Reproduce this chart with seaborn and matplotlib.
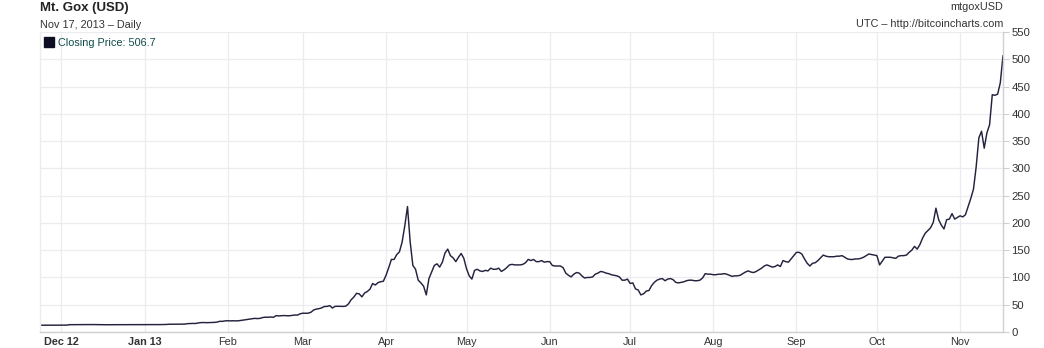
import matplotlib
matplotlib.use("Agg")
import matplotlib.pyplot as plt
import pandas as pd
import seaborn as sns
from matplotlib.lines import Line2D

# ---------------- data (Mt. Gox daily close, USD) ----------------
start_date = "2012-11-23"
nov_2012 = [12.4, 12.4, 12.5, 12.3, 12.2, 12.4, 12.6, 12.6]
dec_2012 = [12.6, 12.6, 12.6, 13.4, 13.4, 13.3, 13.5, 13.4, 13.4, 13.5, 13.6,
            13.7, 13.6, 13.5, 13.5, 13.2, 13.3, 13.3, 13.4, 13.5, 13.4, 13.4,
            13.4, 13.3, 13.3, 13.4, 13.4, 13.5, 13.4, 13.4, 13.5]
jan_2013 = [13.3, 13.3, 13.4, 13.4, 13.5, 13.4, 13.6, 13.7, 13.8, 14.2, 14.3,
            14.2, 14.3, 14.3, 14.1, 14.5, 15.3, 15.5, 15.7, 15.6, 16.6, 17.2,
            17.4, 17.1, 17.2, 17.5, 17.6, 18.2, 19.6, 19.5, 20.4]
feb_2013 = [20.6, 20.4, 20.6, 20.4, 20.6, 21.2, 22.0, 22.7, 23.6, 24.0, 25.0,
            24.6, 25.0, 26.5, 27.2, 27.0, 27.5, 26.9, 29.9, 29.5, 29.8, 30.2,
            29.8, 29.8, 30.4, 31.1, 31.0, 33.4]
mar_2013 = [34.5, 34.3, 34.5, 36.2, 40.3, 42.0, 42.8, 44.2, 46.8, 46.9, 48.4,
            44.0, 47.0, 47.2, 47.0, 46.9, 47.4, 51.6, 59.2, 64.0, 70.9, 69.9,
            64.4, 71.5, 74.2, 78.5, 88.9, 86.2, 90.5, 92.2, 93.0]
apr_2013 = [104, 118, 133, 133, 142, 147, 165, 195, 230, 165, 122, 115, 95, 90,
            84, 68, 98, 110, 122, 125, 119, 128, 145, 152, 140, 136, 129, 137,
            144, 135]
may_2013 = [116, 103, 97, 113, 115, 112, 111, 113, 112, 117, 115, 115, 117, 111,
            114, 118, 123, 124, 123, 123, 123, 124, 127, 133, 131, 133, 129, 129,
            131, 128, 129]
jun_2013 = [129, 122, 121, 121, 121, 118, 108, 104, 101, 106, 109, 108, 103, 99,
            100, 100, 101, 106, 108, 111, 110, 108, 107, 105, 104, 103, 101, 95,
            95, 97]
jul_2013 = [89, 90, 79, 77, 68, 70, 75, 76, 85, 91, 95, 97, 98, 94, 97, 98, 96,
            91, 90, 91, 92, 94, 95, 95, 94, 94, 95, 99, 107, 106, 106]
aug_2013 = [105, 105, 106, 106, 107, 106, 104, 102, 103, 103, 104, 107, 110,
            112, 110, 109, 111, 114, 117, 121, 123, 121, 119, 120, 123, 120, 131,
            129, 128, 134, 140]
sep_2013 = [146, 146, 143, 134, 126, 121, 126, 127, 131, 136, 141, 139, 138,
            138, 138, 139, 139, 140, 137, 134, 133, 133, 134, 134, 135, 137, 140,
            143, 142, 141]
oct_2013 = [140, 123, 130, 137, 137, 137, 136, 135, 139, 140, 140, 141, 146,
            150, 157, 152, 160, 172, 181, 186, 191, 201, 227, 206, 196, 189, 206,
            207, 217, 207, 210]
nov_2013 = [213, 211, 215, 230, 245, 262, 303, 356, 368, 337, 365, 380, 435,
            434, 436, 457, 506.7]

month_ticks = ["2012-12-01", "2013-01-01", "2013-02-01", "2013-03-01",
               "2013-04-01", "2013-05-01", "2013-06-01", "2013-07-01",
               "2013-08-01", "2013-09-01", "2013-10-01", "2013-11-01"]
month_labels = ["Dec 12", "Jan 13", "Feb", "Mar", "Apr", "May", "Jun", "Jul",
                "Aug", "Sep", "Oct", "Nov"]
bold_labels = ["Dec 12", "Jan 13"]
y_ticks = [0, 50, 100, 150, 200, 250, 300, 350, 400, 450, 500, 550]

prices = (nov_2012 + dec_2012 + jan_2013 + feb_2013 + mar_2013 + apr_2013 +
          may_2013 + jun_2013 + jul_2013 + aug_2013 + sep_2013 + oct_2013 +
          nov_2013)
dates = pd.date_range(start_date, periods=len(prices), freq="D")
df = pd.DataFrame({"date": dates, "price": prices})

# ---------------- style ----------------
sns.set_theme(style="white")
plt.rcParams["font.family"] = ["Liberation Sans", "DejaVu Sans"]

W, H = 1044, 348
fig = plt.figure(figsize=(W / 100, H / 100), dpi=100)
ax = fig.add_axes([40 / W, (H - 332) / H, 963 / W, 300 / H])

line_color = "#23233f"
grid_color = "#ececf0"
axis_color = "#cfcfd4"
text_color = "#333333"

sns.lineplot(data=df, x="date", y="price", ax=ax, color=line_color,
             linewidth=1.05, legend=False)

ax.set_xlim(dates[0], dates[-1])
ax.set_ylim(0, 550)

# grid
ax.set_xticks(pd.to_datetime(month_ticks))
ax.set_xticklabels(month_labels)
ax.set_yticks(y_ticks)
ax.set_yticklabels([str(v) for v in y_ticks])
ax.grid(True, color=grid_color, linewidth=0.9)
ax.set_axisbelow(True)

# spines
ax.spines["top"].set_visible(False)
ax.spines["left"].set_color(grid_color)
ax.spines["bottom"].set_color(axis_color)
ax.spines["right"].set_color(axis_color)
for s in ["left", "bottom", "right"]:
    ax.spines[s].set_linewidth(1.0)

ax.yaxis.tick_right()
ax.tick_params(axis="y", which="both", right=True, left=False, length=4,
               width=0.8, color=axis_color, pad=2, labelsize=8.2,
               labelcolor=text_color)
ax.tick_params(axis="x", which="both", bottom=False, top=False, length=0,
               pad=3.5, labelsize=7.8, labelcolor=text_color)
for lbl in ax.get_xticklabels():
    if lbl.get_text() in bold_labels:
        lbl.set_fontweight("bold")

ax.set_xlabel("")
ax.set_ylabel("")

# legend
handle = Line2D([], [], marker="s", linestyle="none", markersize=6.5,
                markerfacecolor="#0d0d24", markeredgecolor="#0d0d24")
leg = ax.legend([handle], ["Closing Price: 506.7"], loc="upper left",
                frameon=False, fontsize=7.8, handlelength=0.7,
                handletextpad=0.45, borderaxespad=0.0, borderpad=0.25,
                bbox_to_anchor=(0.0025, 0.99))
for t in leg.get_texts():
    t.set_color("#0f4a4a")

# titles
fig.text(40 / W, 1 - 8 / H, "Mt. Gox (USD)", fontsize=9.5, fontweight="bold",
         color="#222222", ha="left", va="center")
fig.text(40 / W, 1 - 25 / H, "Nov 17, 2013 \u2013 Daily", fontsize=7.8,
         color=text_color, ha="left", va="center")
fig.text(1003 / W, 1 - 7 / H, "mtgoxUSD", fontsize=7.8, color=text_color,
         ha="right", va="center")
fig.text(1003 / W, 1 - 24 / H, "UTC \u2013 http://bitcoincharts.com",
         fontsize=7.8, color=text_color, ha="right", va="center")

fig.savefig("out.png", dpi=100, facecolor="white")
